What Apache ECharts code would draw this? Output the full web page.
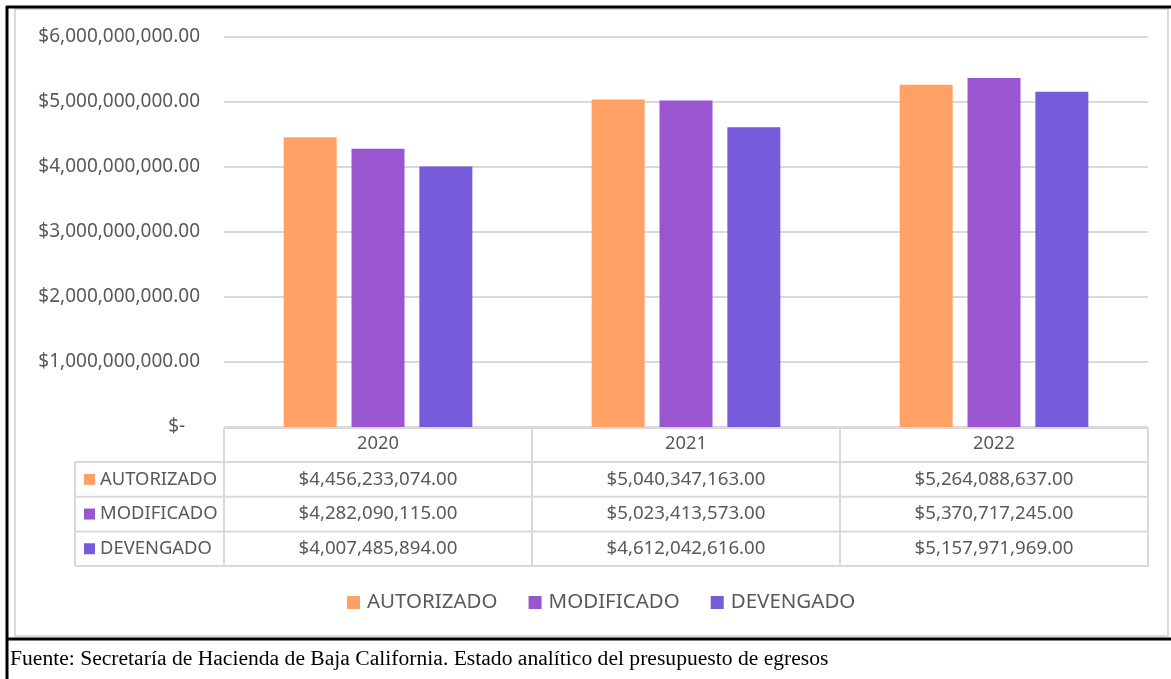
<!DOCTYPE html>
<html>
<head>
<meta charset="utf-8">
<script src="https://cdn.jsdelivr.net/npm/echarts@6/dist/echarts.min.js"></script>
<style>
html,body{margin:0;padding:0;background:#fff;}
#c{width:1171px;height:679px;}
</style>
</head>
<body>
<div id="c"></div>
<script>
const categories = ['2020', '2021', '2022'];
const seriesNames = ['AUTORIZADO', 'MODIFICADO', 'DEVENGADO'];
const autorizado = [4456233074, 5040347163, 5264088637];
const modificado = [4282090115, 5023413573, 5370717245];
const devengado = [4007485894, 4612042616, 5157971969];
const yMin = 0, yMax = 6000000000, yStep = 1000000000;
const sourceNote = 'Fuente: Secretaría de Hacienda de Baja California. Estado analítico del presupuesto de egresos';

const colors = ['#FFA065', '#9A55D1', '#765BDA'];
const seriesData = [autorizado, modificado, devengado];
const FONT = '"Noto Sans", sans-serif';
const TXT = '#595959';
const GRID = '#d9d9d9';

function money(v) {
  return '$' + v.toLocaleString('en-US', {minimumFractionDigits: 2, maximumFractionDigits: 2});
}

const chart = echarts.init(document.getElementById('c'), null, {renderer: 'canvas'});
const option = {
  animation: false,
  color: colors,
  textStyle: {fontFamily: FONT},
  grid: {left: 224, right: 23, top: 37, bottom: 252, containLabel: false},
  legend: {
    data: seriesNames, top: 592, left: 347, icon: 'rect', padding: 0,
    itemWidth: 13, itemHeight: 13, itemGap: 31,
    textStyle: {fontSize: 20.5, color: TXT, fontFamily: FONT, padding: [0, 0, 0, 2]}
  },
  xAxis: {
    type: 'category', data: categories,
    axisLine: {show: false}, axisTick: {show: false},
    axisLabel: {fontSize: 18.3, color: TXT, margin: 8, fontFamily: FONT}
  },
  yAxis: {
    type: 'value', min: yMin, max: yMax, interval: yStep,
    axisLine: {show: false}, axisTick: {show: false},
    splitLine: {lineStyle: {color: GRID, width: 2}},
    axisLabel: {
      fontSize: 19, color: TXT, margin: 24, fontFamily: FONT,
      formatter: v => v === 0 ? '$-   ' : money(v)
    }
  },
  series: seriesNames.map((n, i) => ({
    name: n, type: 'bar', data: seriesData[i],
    barWidth: 53, barGap: '28%', barCategoryGap: '38%',
    itemStyle: {color: colors[i]}
  }))
};
chart.setOption(option);

// Data table under the axis, positioned from the axis scale
const centers = categories.map(c => chart.convertToPixel({xAxisIndex: 0}, c));
const step = centers[1] - centers[0];
const tableTop = chart.convertToPixel({yAxisIndex: 0}, 0) + 1;
const headerH = 34, rowH = 34.7;
const tableLeft = 75;
const colEdges = [centers[0] - step / 2].concat(centers.map(c => c + step / 2));
const tableRight = colEdges[colEdges.length - 1];
const rowYs = [tableTop, tableTop + headerH];
for (let i = 0; i < seriesNames.length; i++) rowYs.push(rowYs[rowYs.length - 1] + rowH);
const bottomY = rowYs[rowYs.length - 1];

const g = [];
const ls = {stroke: GRID, lineWidth: 2};
g.push({type: 'line', shape: {x1: colEdges[0], y1: tableTop, x2: tableRight, y2: tableTop}, style: ls});
for (let r = 1; r < rowYs.length; r++) {
  g.push({type: 'line', shape: {x1: tableLeft, y1: rowYs[r], x2: tableRight, y2: rowYs[r]}, style: ls});
}
g.push({type: 'line', shape: {x1: tableLeft, y1: rowYs[1], x2: tableLeft, y2: bottomY}, style: ls});
colEdges.forEach(x => g.push({type: 'line', shape: {x1: x, y1: tableTop, x2: x, y2: bottomY}, style: ls}));

seriesNames.forEach((n, i) => {
  const yc = (rowYs[i + 1] + rowYs[i + 2]) / 2;
  g.push({type: 'rect', shape: {x: 84, y: yc - 5.5, width: 11, height: 11}, style: {fill: colors[i]}});
  g.push({type: 'text', x: 100, y: yc, style: {text: n, fill: TXT, font: '18.4px ' + FONT, textVerticalAlign: 'middle', textAlign: 'left'}});
  categories.forEach((c, j) => {
    g.push({type: 'text', x: centers[j], y: yc, style: {text: money(seriesData[i][j]), fill: TXT, font: '18.7px ' + FONT, textVerticalAlign: 'middle', textAlign: 'center'}});
  });
});

// frame
g.push({type: 'rect', shape: {x: 15, y: 9, width: 1153, height: 627}, style: {fill: 'none', stroke: GRID, lineWidth: 2}});
g.push({type: 'line', shape: {x1: 6, y1: 7, x2: 1171, y2: 7}, style: {stroke: '#000', lineWidth: 3}});
g.push({type: 'line', shape: {x1: 7, y1: 6, x2: 7, y2: 679}, style: {stroke: '#000', lineWidth: 3}});
g.push({type: 'line', shape: {x1: 6, y1: 639, x2: 1171, y2: 639}, style: {stroke: '#000', lineWidth: 3}});
g.push({type: 'text', x: 10, y: 659, style: {text: sourceNote, fill: '#000', font: '21.6px "Liberation Serif", serif', textVerticalAlign: 'middle'}});

chart.setOption({graphic: g});
</script>
</body>
</html>
